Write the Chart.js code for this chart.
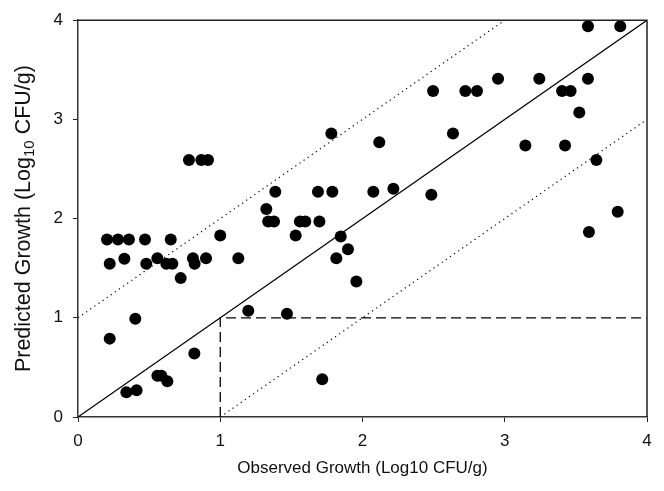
<!DOCTYPE html>
<html>
<head>
<meta charset="utf-8">
<script src="https://cdn.jsdelivr.net/npm/chart.js@4"></script>
<style>
  html, body { margin: 0; padding: 0; background: #fff; }
  #wrap { width: 664px; height: 491px; position: relative; }
</style>
</head>
<body>
<div id="wrap"><canvas id="c"></canvas></div>
<script>
// Observed (x) and predicted (y) growth, Log10 CFU/g
const observed = [
  0.204, 0.281, 0.358, 0.471, 0.652, 1.000, 0.223, 0.326, 0.480, 0.558,
  0.621, 0.663, 0.808, 0.820, 0.900, 1.127, 0.722, 0.403, 0.223, 1.197,
  0.818, 0.558, 0.586, 0.628, 0.340, 0.412, 1.530, 1.847, 1.898, 1.816,
  1.957, 1.469, 1.717, 3.592, 0.780, 0.867, 0.914, 1.324, 1.387, 1.687,
  1.788, 2.076, 2.217, 2.484, 1.781, 2.118, 2.496, 2.636, 1.337, 1.378,
  1.560, 1.598, 1.697, 3.585, 3.812, 2.723, 2.805, 2.953, 3.243, 3.403,
  3.463, 3.585, 3.524, 3.145, 3.424, 3.644, 3.794
];
const predicted = [
  1.79, 1.79, 1.79, 1.79, 1.79, 1.83, 1.545, 1.595, 1.545, 1.60,
  1.545, 1.545, 1.60, 1.545, 1.60, 1.60, 1.40, 0.99, 0.79, 1.07,
  0.64, 0.415, 0.415, 0.36, 0.25, 0.27, 1.83, 1.82, 1.69, 1.60,
  1.367, 1.04, 0.38, 1.866, 2.59, 2.59, 2.59, 2.097, 2.27, 2.27,
  2.27, 2.27, 2.30, 2.24, 2.857, 2.77, 3.286, 2.857, 1.97, 1.97,
  1.97, 1.97, 1.97, 3.94, 3.94, 3.286, 3.286, 3.41, 3.41, 3.286,
  3.286, 3.41, 3.07, 2.737, 2.737, 2.59, 2.07
];
// Reference lines (values in Log10 units)
const identityX = [0, 4];
const identityY = [0, 4];
const upperBandX = [0, 3];
const upperBandY = [1, 4];
const lowerBandX = [1, 4];
const lowerBandY = [0, 3];
const thresholdX = [1, 1, 4];
const thresholdY = [0, 1, 1];
const tickValues = [0, 1, 2, 3, 4];
const xTitle = 'Observed Growth (Log10 CFU/g)';
const yTitleParts = ['Predicted Growth (Log', '10', ' CFU/g)'];

const toPts = (xs, ys) => xs.map((x, i) => ({ x: x, y: ys[i] }));
const FAMILY = '"Liberation Sans", Arial, sans-serif';

const frame = {
  id: 'frame',
  afterDatasetsDraw(chart) {
    const { ctx, chartArea: a } = chart;
    ctx.save();
    ctx.strokeStyle = '#222';
    ctx.lineWidth = 1.5;
    ctx.beginPath();
    ctx.moveTo(a.left, a.top);
    ctx.lineTo(a.right, a.top);
    ctx.lineTo(a.right, a.bottom);
    ctx.stroke();
    ctx.restore();
  }
};

// Y-axis title with a true subscript
const yTitle = {
  id: 'yTitle',
  afterDraw(chart) {
    const { ctx, chartArea: a } = chart;
    const big = '21.5px ' + FAMILY, small = '15px ' + FAMILY;
    ctx.save();
    ctx.fillStyle = '#111';
    ctx.textBaseline = 'alphabetic';
    ctx.textAlign = 'left';
    ctx.font = big;
    const w0 = ctx.measureText(yTitleParts[0]).width;
    const w2 = ctx.measureText(yTitleParts[2]).width;
    ctx.font = small;
    const w1 = ctx.measureText(yTitleParts[1]).width;
    const total = w0 + w1 + w2;
    ctx.translate(22, (a.top + a.bottom) / 2);
    ctx.rotate(-Math.PI / 2);
    let x = -total / 2;
    ctx.font = big;
    ctx.fillText(yTitleParts[0], x, 7.5);
    x += w0;
    ctx.font = small;
    ctx.fillText(yTitleParts[1], x, 12);
    x += w1;
    ctx.font = big;
    ctx.fillText(yTitleParts[2], x, 7.5);
    ctx.restore();
  }
};

const font = { family: FAMILY, size: 17 };

new Chart(document.getElementById('c'), {
  type: 'scatter',
  data: {
    datasets: [
      { data: toPts(identityX, identityY), showLine: true, borderColor: '#000', borderWidth: 1.2, pointRadius: 0, order: 2 },
      { data: toPts(upperBandX, upperBandY), showLine: true, borderColor: '#000', borderWidth: 1.2, borderDash: [1.2, 3.8], pointRadius: 0, order: 2 },
      { data: toPts(lowerBandX, lowerBandY), showLine: true, borderColor: '#000', borderWidth: 1.2, borderDash: [1.2, 3.8], pointRadius: 0, order: 2 },
      { data: toPts(thresholdX, thresholdY), showLine: true, borderColor: '#000', borderWidth: 1.3, borderDash: [10, 5], pointRadius: 0, order: 2 },
      { data: toPts(observed, predicted), backgroundColor: '#000', borderColor: '#000', pointRadius: 6, borderWidth: 0, order: 1 }
    ]
  },
  options: {
    responsive: true,
    maintainAspectRatio: false,
    animation: false,
    layout: { padding: { left: 0, right: 17, top: 19, bottom: 0 } },
    plugins: { legend: { display: false }, tooltip: { enabled: false } },
    scales: {
      x: {
        type: 'linear', min: 0, max: 4,
        afterBuildTicks(s) { s.ticks = tickValues.map(v => ({ value: v })); },
        afterFit(s) { s.height = 74; },
        ticks: { font: font, color: '#111', padding: 9 },
        grid: { display: true, drawOnChartArea: false, drawTicks: true, tickLength: 5, color: '#222', lineWidth: 1 },
        border: { display: true, color: '#333', width: 1.5 },
        title: { display: true, text: xTitle, font: font, color: '#111', padding: { top: 0, bottom: 12 } }
      },
      y: {
        type: 'linear', min: 0, max: 4,
        afterBuildTicks(s) { s.ticks = tickValues.map(v => ({ value: v })); },
        afterFit(s) { s.width = 78; },
        ticks: { font: font, color: '#111', padding: 10 },
        grid: { display: true, drawOnChartArea: false, drawTicks: true, tickLength: 5, color: '#222', lineWidth: 1 },
        border: { display: true, color: '#333', width: 1.5 },
        title: { display: false }
      }
    }
  },
  plugins: [frame, yTitle]
});
</script>
</body>
</html>
